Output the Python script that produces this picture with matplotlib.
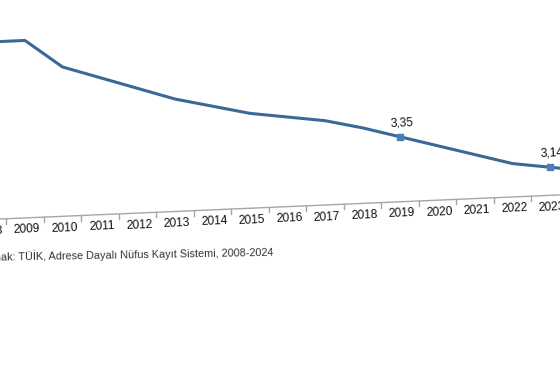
import matplotlib
matplotlib.use("Agg")
import matplotlib.pyplot as plt
from matplotlib.transforms import Affine2D

years = list(range(2008, 2025))
values = [3.99, 3.99, 3.83, 3.76, 3.69, 3.62, 3.57, 3.52, 3.49, 3.46, 3.41,
          3.35, 3.29, 3.23, 3.17, 3.14, 3.11]
label_years = [2019, 2023]
label_texts = ["3,35", "3,14"]
source_text = "Kaynak: TÜİK, Adrese Dayalı Nüfus Kayıt Sistemi, 2008-2024"

W, H, DPI = 560, 380, 100
fig = plt.figure(figsize=(W / DPI, H / DPI), dpi=DPI)
fig.patch.set_facecolor("white")

px_per_year = 37.5
x_left_px = 400 - (2019 - 2007.5) * px_per_year
x_right_px = 400 + (2024.5 - 2019) * px_per_year
ymin, ymax = 2.98, 4.2
px_per_unit = 175.7
axis_y = 178.2
ax = fig.add_axes([x_left_px / W, axis_y / H, (x_right_px - x_left_px) / W,
                   (ymax - ymin) * px_per_unit / H])
ax.set_xlim(2007.5, 2024.5)
ax.set_ylim(ymin, ymax)
ax.axis("off")

# slight vertical shear (the reference is a tilted snapshot)
k = 0.043
cx = 400.0
S = Affine2D([[1, 0, 0], [k, 1, -k * cx], [0, 0, 1]])
T = ax.transData + S
angle = 2.46

font = "Liberation Sans"
line_color = "#3b6996"
marker_color = "#4a7ebb"
axis_color = "#a6a6a6"

# axis line and tick marks
ax.plot([2007.5, 2024.5], [ymin, ymin], color=axis_color, lw=1.0,
        transform=T, clip_on=False)
for b in range(2008, 2026):
    ax.plot([b - 0.5, b - 0.5], [ymin, ymin - 5 / px_per_unit],
            color=axis_color, lw=1.0, transform=T, clip_on=False)

# year labels
for yr in years:
    ax.text(yr, ymin, str(yr),
            transform=ax.transData + Affine2D().translate(2, -12) + S,
            ha="center", va="center", rotation=angle, rotation_mode="anchor",
            fontsize=8.6, family=font, color="#111111")

# main line
ax.plot(years, values, color=line_color, lw=2.2, transform=T, clip_on=False,
        solid_joinstyle="round")

# markers and labels
for yr, txt in zip(label_years, label_texts):
    v = values[years.index(yr)]
    ax.plot([yr], [v], marker="s", ms=5, color=marker_color, transform=T,
            clip_on=False, linestyle="none")
    ax.text(yr, v, txt,
            transform=ax.transData + Affine2D().translate(2, 14) + S,
            ha="center", va="center", rotation=angle, rotation_mode="anchor",
            fontsize=8.6, family=font, color="#111111")

# source
fig.text(273 / W, (H - 251.5) / H, source_text, ha="right", va="center",
         rotation=1.0, rotation_mode="anchor", fontsize=7.8, family=font,
         color="#333333")

fig.savefig("out.png", dpi=DPI)
